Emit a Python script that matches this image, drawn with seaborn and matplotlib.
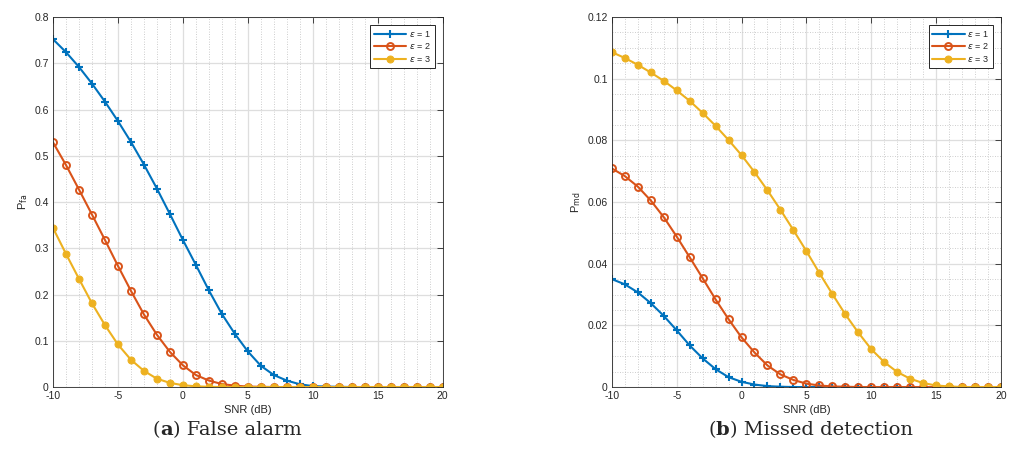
import numpy as np
import pandas as pd
import matplotlib
matplotlib.use("Agg")
import matplotlib.pyplot as plt
import seaborn as sns
from matplotlib.ticker import MultipleLocator
from matplotlib.offsetbox import TextArea, HPacker, AnchoredOffsetbox

snr = list(range(-10, 21))

pfa_e1 = [0.752, 0.724, 0.692, 0.656, 0.617, 0.575, 0.530, 0.481, 0.429, 0.374,
          0.318, 0.264, 0.209, 0.158, 0.115, 0.077, 0.046, 0.026, 0.014, 0.006,
          0.002, 0.001, 0.0005, 0, 0, 0, 0, 0, 0, 0, 0]
pfa_e2 = [0.529, 0.480, 0.427, 0.373, 0.318, 0.262, 0.208, 0.157, 0.113, 0.076,
          0.047, 0.026, 0.014, 0.0065, 0.003, 0.001, 0.0005, 0, 0, 0,
          0, 0, 0, 0, 0, 0, 0, 0, 0, 0, 0]
pfa_e3 = [0.344, 0.288, 0.234, 0.181, 0.134, 0.092, 0.059, 0.035, 0.018, 0.009,
          0.004, 0.0015, 0.0005, 0, 0, 0, 0, 0, 0, 0,
          0, 0, 0, 0, 0, 0, 0, 0, 0, 0, 0]

pmd_e1 = [0.0350, 0.0333, 0.0307, 0.0272, 0.0231, 0.0184, 0.0135, 0.0093, 0.0058, 0.0032,
          0.0017, 0.0008, 0.0003, 0.0001, 0, 0, 0, 0, 0, 0,
          0, 0, 0, 0, 0, 0, 0, 0, 0, 0, 0]
pmd_e2 = [0.0709, 0.0684, 0.0650, 0.0605, 0.0551, 0.0488, 0.0421, 0.0353, 0.0284, 0.0220,
          0.0161, 0.0112, 0.0070, 0.0041, 0.0023, 0.0011, 0.0005, 0.0002, 0.0001, 0,
          0, 0, 0, 0, 0, 0, 0, 0, 0, 0, 0]
pmd_e3 = [0.1086, 0.1067, 0.1045, 0.1020, 0.0993, 0.0962, 0.0928, 0.0889, 0.0847, 0.0801,
          0.0752, 0.0697, 0.0638, 0.0575, 0.0509, 0.0441, 0.0370, 0.0302, 0.0236, 0.0177,
          0.0123, 0.0081, 0.0049, 0.0027, 0.0013, 0.0005, 0.0002, 0, 0, 0, 0]

labels = [r'$\epsilon$ = 1', r'$\epsilon$ = 2', r'$\epsilon$ = 3']
captions = ["False alarm", "Missed detection"]
letters = ["a", "b"]
xticks = [-10, -5, 0, 5, 10, 15, 20]
pfa_ticks = [0, 0.1, 0.2, 0.3, 0.4, 0.5, 0.6, 0.7, 0.8]
pmd_ticks = [0, 0.02, 0.04, 0.06, 0.08, 0.1, 0.12]

sns.set_style("white")
plt.rcParams['font.family'] = ['Liberation Sans', 'DejaVu Sans']
plt.rcParams['mathtext.fontset'] = 'dejavusans'

colors = ['#0072BD', '#D95319', '#EDB120']
mstyles = [dict(marker='+', markersize=5.5, markeredgewidth=1.5),
           dict(marker='o', markersize=5, markerfacecolor='none', markeredgewidth=1.4),
           dict(marker='.', markersize=10)]

fig = plt.figure(figsize=(10.13, 4.68), dpi=100)
ax1 = fig.add_axes([0.0523, 0.173, 0.3847, 0.7907])
ax2 = fig.add_axes([0.604, 0.173, 0.384, 0.7907])

datasets = [[pfa_e1, pfa_e2, pfa_e3], [pmd_e1, pmd_e2, pmd_e3]]
ylims = [(0, 0.8), (0, 0.12)]
ytick_sets = [pfa_ticks, pmd_ticks]
ylabels = [r'P$_{\mathrm{fa}}$', r'P$_{\mathrm{md}}$']

ink = '#262626'
for i, ax in enumerate([ax1, ax2]):
    for j in range(3):
        df = pd.DataFrame({'SNR': snr, 'P': datasets[i][j]})
        sns.lineplot(data=df, x='SNR', y='P', ax=ax, color=colors[j], linewidth=1.5,
                     label=labels[j], markeredgecolor=colors[j], **mstyles[j])
    ax.set_xlim(-10, 20)
    ax.set_ylim(*ylims[i])
    ax.set_xticks(xticks)
    ax.set_xticklabels([str(v) for v in xticks])
    ax.set_yticks(ytick_sets[i])
    ax.set_yticklabels(['%g' % v for v in ytick_sets[i]])
    ax.xaxis.set_minor_locator(MultipleLocator(1))
    if i == 1:
        ax.yaxis.set_minor_locator(MultipleLocator(0.005))
    ax.tick_params(which='major', direction='in', top=True, right=True, length=4,
                   width=0.6, colors=ink, labelsize=7.5, pad=3)
    ax.tick_params(which='minor', direction='in', top=False, right=False, length=0)
    ax.grid(which='major', color='#dedede', linewidth=0.9, linestyle='-')
    ax.grid(which='minor', axis='x', color='#bdbdbd', linewidth=0.6, linestyle=(0, (1, 2)))
    if i == 1:
        ax.grid(which='minor', axis='y', color='#bdbdbd', linewidth=0.6, linestyle=(0, (1, 2)))
    ax.set_axisbelow(True)
    for s in ax.spines.values():
        s.set_color(ink)
        s.set_linewidth(0.6)
    ax.set_xlabel('SNR (dB)', fontsize=8, color=ink, labelpad=3)
    ax.set_ylabel(ylabels[i], fontsize=8, color=ink, labelpad=3)
    leg = ax.legend(loc='upper right', fontsize=6.5, frameon=True, fancybox=False,
                    edgecolor='#262626', framealpha=1, borderpad=0.4,
                    handlelength=3.6, handletextpad=0.3, labelspacing=0.3,
                    borderaxespad=0.9)
    leg.get_frame().set_linewidth(0.7)

for i, cx in enumerate([0.224, 0.80]):
    parts = [TextArea('(', textprops=dict(fontsize=14, family='DejaVu Serif')),
             TextArea(letters[i], textprops=dict(fontsize=14, family='DejaVu Serif', weight='bold')),
             TextArea(') ' + captions[i], textprops=dict(fontsize=14, family='DejaVu Serif'))]
    box = HPacker(children=parts, align='baseline', pad=0, sep=0)
    ab = AnchoredOffsetbox(loc='center', child=box, frameon=False,
                           bbox_to_anchor=(cx, 0.082), bbox_transform=fig.transFigure,
                           borderpad=0, pad=0)
    fig.add_artist(ab)

fig.savefig('out.png', dpi=100)
